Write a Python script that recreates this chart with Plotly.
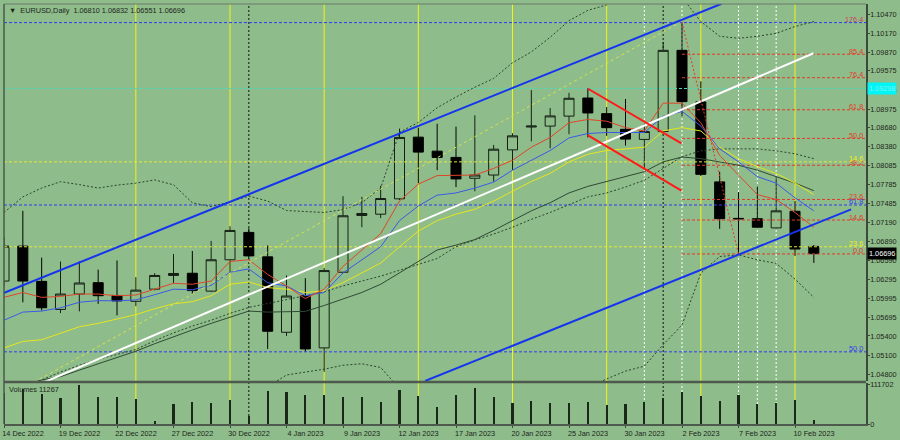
import plotly.graph_objects as go

# ---------------- data ----------------
bar_dates = ["14 Dec 2022", "15 Dec 2022", "16 Dec 2022", "19 Dec 2022", "20 Dec 2022",
             "21 Dec 2022", "22 Dec 2022", "23 Dec 2022", "26 Dec 2022", "27 Dec 2022",
             "28 Dec 2022", "29 Dec 2022", "30 Dec 2022", "2 Jan 2023", "3 Jan 2023",
             "4 Jan 2023", "5 Jan 2023", "6 Jan 2023", "9 Jan 2023", "10 Jan 2023",
             "11 Jan 2023", "12 Jan 2023", "13 Jan 2023", "16 Jan 2023", "17 Jan 2023",
             "18 Jan 2023", "19 Jan 2023", "20 Jan 2023", "23 Jan 2023", "24 Jan 2023",
             "25 Jan 2023", "26 Jan 2023", "27 Jan 2023", "30 Jan 2023", "31 Jan 2023",
             "1 Feb 2023", "2 Feb 2023", "3 Feb 2023", "6 Feb 2023", "7 Feb 2023",
             "8 Feb 2023", "9 Feb 2023", "10 Feb 2023", "13 Feb 2023"]

date_tick_labels = ["14 Dec 2022", "19 Dec 2022", "22 Dec 2022", "27 Dec 2022", "30 Dec 2022",
                    "4 Jan 2023", "9 Jan 2023", "12 Jan 2023", "17 Jan 2023", "20 Jan 2023",
                    "25 Jan 2023", "30 Jan 2023", "2 Feb 2023", "7 Feb 2023", "10 Feb 2023"]

open_ = [1.06265, 1.06815, 1.06260, 1.05818, 1.06060, 1.06239, 1.06038, 1.05946, 1.06137, 1.06353,
         1.06388, 1.06106, 1.06600, 1.07031, 1.06646, 1.05458, 1.06034, 1.05212, 1.06404, 1.07298,
         1.07318, 1.07560, 1.08532, 1.08311, 1.08213, 1.07884, 1.07935, 1.08331, 1.08691, 1.08706,
         1.08863, 1.09148, 1.08902, 1.08655, 1.08496, 1.08620, 1.09899, 1.09087, 1.07827, 1.07252,
         1.07247, 1.07102, 1.07364, 1.06810]
high = [1.06959, 1.07371, 1.06635, 1.06573, 1.06573, 1.06445, 1.06589, 1.06327, 1.06389, 1.06692,
        1.06738, 1.06897, 1.07128, 1.07098, 1.06825, 1.06353, 1.06311, 1.06470, 1.07602, 1.07591,
        1.07765, 1.08666, 1.08681, 1.08743, 1.08697, 1.08876, 1.08409, 1.08593, 1.09272, 1.08990,
        1.09230, 1.09298, 1.09005, 1.09133, 1.08748, 1.10032, 1.10340, 1.09411, 1.07987, 1.07664,
        1.07756, 1.07899, 1.07525, 1.06832]
low = [1.06188, 1.05930, 1.05800, 1.05761, 1.05787, 1.05906, 1.05725, 1.05869, 1.06118, 1.06229,
       1.06060, 1.06095, 1.06384, 1.06620, 1.05196, 1.05401, 1.05150, 1.04836, 1.06389, 1.07113,
       1.07257, 1.07540, 1.07807, 1.08012, 1.07745, 1.07679, 1.07833, 1.08012, 1.08465, 1.08357,
       1.08578, 1.08527, 1.08552, 1.08398, 1.08027, 1.08600, 1.08860, 1.07920, 1.07087, 1.06692,
       1.07105, 1.07097, 1.06661, 1.06551]
close = [1.06815, 1.06265, 1.05844, 1.06060, 1.06234, 1.06034, 1.05952, 1.06122, 1.06353, 1.06384,
         1.06115, 1.06600, 1.07062, 1.06661, 1.05474, 1.06029, 1.05196, 1.06430, 1.07293, 1.07329,
         1.07565, 1.08527, 1.08296, 1.08213, 1.07873, 1.07935, 1.08342, 1.08552, 1.08706, 1.08866,
         1.09144, 1.08913, 1.08681, 1.08501, 1.08620, 1.09899, 1.09091, 1.07946, 1.07247, 1.07245,
         1.07113, 1.07371, 1.06769, 1.06696]

volume = [90000, 100548, 86583, 73456, 111702, 76249, 76000, 72618, 9217, 56698,
          62284, 60608, 69825, 23182, 94962, 93007, 83790, 81835, 77366, 76249,
          64239, 96917, 79042, 49436, 83790, 102503, 78204, 60608, 66194, 61446,
          61446, 62284, 55860, 57815, 63401, 73456, 91331, 79042, 65077, 82952,
          58653, 61446, 67870, 11267]

ma_red = [1.06008, 1.06085, 1.06008, 1.06023, 1.06060, 1.06060, 1.06034, 1.06045, 1.06137, 1.06230,
          1.06214, 1.06265, 1.06574, 1.06600, 1.06369, 1.06188, 1.05988, 1.06137, 1.06497, 1.06754,
          1.07010, 1.07525, 1.07792, 1.07926, 1.07926, 1.07935, 1.08039, 1.08167, 1.08373, 1.08527,
          1.08759, 1.08810, 1.08783, 1.08682, 1.08629, 1.09067, 1.09067, 1.08759, 1.08244, 1.07935,
          1.07627, 1.07550, 1.07345, 1.07113]
ma_blue = [1.05648, 1.05776, 1.05792, 1.05844, 1.05931, 1.05957, 1.05952, 1.05968, 1.06049, 1.06137,
           1.06127, 1.06199, 1.06404, 1.06455, 1.06239, 1.06188, 1.06034, 1.06085, 1.06393, 1.06600,
           1.06805, 1.07217, 1.07448, 1.07618, 1.07653, 1.07730, 1.07823, 1.08012, 1.08167, 1.08321,
           1.08520, 1.08589, 1.08605, 1.08605, 1.08605, 1.08860, 1.08938, 1.08706, 1.08347, 1.08142,
           1.07911, 1.07807, 1.07576, 1.07371]
ma_yellow = [1.05212, 1.05314, 1.05340, 1.05443, 1.05545, 1.05598, 1.05664, 1.05736, 1.05829, 1.05906,
             1.05941, 1.06034, 1.06214, 1.06250, 1.06162, 1.06137, 1.06085, 1.06111, 1.06239, 1.06393,
             1.06548, 1.06805, 1.07052, 1.07217, 1.07318, 1.07396, 1.07525, 1.07679, 1.07834, 1.07961,
             1.08142, 1.08262, 1.08321, 1.08347, 1.08373, 1.08629, 1.08682, 1.08629, 1.08373, 1.08193,
             1.08065, 1.07961, 1.07807, 1.07627]
ma_dark = [1.04569, 1.04615, 1.04708, 1.04759, 1.04862, 1.04962, 1.05066, 1.05160, 1.05278, 1.05391,
           1.05494, 1.05598, 1.05695, 1.05792, 1.05776, 1.05776, 1.05787, 1.05880, 1.05983, 1.06085,
           1.06214, 1.06393, 1.06574, 1.06754, 1.06831, 1.06918, 1.07062, 1.07217, 1.07371, 1.07499,
           1.07653, 1.07756, 1.07834, 1.07915, 1.07988, 1.08142, 1.08219, 1.08193, 1.08142, 1.08089,
           1.08012, 1.07911, 1.07807, 1.07689]
ma_slow = [1.04538, 1.04615, 1.04708, 1.04831, 1.04939, 1.05032, 1.05109, 1.05186, 1.05325, 1.05448,
           1.05556, 1.05648, 1.05756, 1.05849, 1.05911, 1.05972, 1.06034, 1.06096, 1.06188, 1.06265,
           1.06342, 1.06435, 1.06527, 1.06620, 1.06805, 1.06913, 1.07005, 1.07113, 1.07237, 1.07345,
           1.07468, 1.07591, 1.07653, 1.07746, 1.07854, 1.08039, 1.08224, 1.08316, 1.08347, 1.08347,
           1.08347, 1.08316, 1.08270, 1.08193]
bb_upper = [1.07345, 1.07591, 1.07730, 1.07830, 1.07784, 1.07730, 1.07776, 1.07807, 1.07858, 1.07781,
            1.07499, 1.07437, 1.07514, 1.07602, 1.07525, 1.07376, 1.07360, 1.07345, 1.07391, 1.07499,
            1.07730, 1.08609, 1.08763, 1.08995, 1.09164, 1.09318, 1.09457, 1.09704, 1.09874, 1.10105,
            1.10367, 1.10529, 1.10614, 1.10783, 1.10845, 1.10891, 1.10737, 1.10352, 1.10120, 1.10089,
            1.10120, 1.10167, 1.10274, 1.10352]
bb_lower = [1.04184, 1.04106, 1.04029, 1.03999, 1.04029, 1.04060, 1.04106, 1.04184, 1.04261, 1.04338,
            1.04415, 1.04461, 1.04492, 1.04523, 1.04600, 1.04785, 1.04831, 1.04877, 1.04939, 1.04962,
            1.04904, 1.04569, 1.04338, 1.04106, 1.03999, 1.03875, 1.03875, 1.03952, 1.04106, 1.04307,
            1.04461, 1.04585, 1.04723, 1.04847, 1.04924, 1.05263, 1.05571, 1.06389, 1.06651, 1.06677,
            1.06600, 1.06543, 1.06296, 1.06008]

# trend lines: [bar index], [price]
channel_top_x, channel_top_y = [-0.16, 38.1], [1.06060, 1.10633]
channel_bot_x, channel_bot_y = [22.36, 44.98], [1.04691, 1.07395]
white_line_x, white_line_y = [2.14, 42.98], [1.04672, 1.09853]
dotted_trend_x, dotted_trend_y = [1.61, 35.88], [1.04672, 1.10336]
flag_top_x, flag_top_y = [30.99, 35.97], [1.09298, 1.08435]
flag_bot_x, flag_bot_y = [30.99, 35.97], [1.08563, 1.07689]
fib_diag_x, fib_diag_y = [36, 39], [1.10340, 1.06692]

# fibonacci (red) levels drawn from the high bar
fib_start = 36
fib_labels = ["0.0", "14.6", "23.6", "38.2", "50.0", "61.8", "76.4", "85.4"]
fib_prices = [1.06692, 1.07226, 1.07550, 1.08089, 1.08512, 1.08963, 1.09468, 1.09838]

# full-width levels
level_prices = [1.10336, 1.08142, 1.07463, 1.06805, 1.05150]
level_labels = ["176.4", "14.6", "61.8", "23.6", "50.0"]
level_kind = ["blue", "yellow", "blue", "yellow", "blue"]
cyan_level = 1.09298

friday_bars = [7, 12, 17, 22, 27, 32, 37, 42]
month_bars = [13, 35]
white_dotted_bars = [34, 36, 39, 40, 41]

price_ticks = [1.10470, 1.10170, 1.09870, 1.09575, 1.09275, 1.08975, 1.08680, 1.08380, 1.08085,
               1.07785, 1.07485, 1.07190, 1.06890, 1.06590, 1.06295, 1.05995, 1.05695, 1.05400,
               1.05100, 1.04800]
volume_ticks = [0, 111702]

header = "▼  EURUSD,Daily  1.06810 1.06832 1.06551 1.06696"
volume_title = "Volumes 11267"

# ---------------- styling ----------------
BG = "#8fbc8b"
FONT = "Liberation Sans, Arial, sans-serif"
FS = 7.3
TXT = "#1c261c"
X_MAX = 45.77
Y_MIN, Y_MAX = 1.04692, 1.10629
MAIN_DOM = [0.1026, 1.0]
VOL_DOM = [0.0, 0.0979]
colors = {"blue": "#2f3cf2", "yellow": "#e4e838", "red": "#e23a2a"}
label_colors = {"blue": "#2f3cf2", "yellow": "#f0f020", "red": "#e23a2a"}

x = list(range(len(bar_dates)))
fig = go.Figure()


def line(xs, ys, color, width=1, dash=None, yaxis="y"):
    fig.add_trace(go.Scatter(x=xs, y=ys, mode="lines", yaxis=yaxis, hoverinfo="skip",
                             showlegend=False,
                             line=dict(color=color, width=width, dash=dash)))


# full-width horizontal levels
for p, kind in zip(level_prices, level_kind):
    line([0, X_MAX], [p, p], colors[kind], 1, "3px,2px")
line([0, X_MAX], [cyan_level, cyan_level], "#52d6b8", 1, "3px,2px")
# red fib levels
for p in fib_prices:
    line([fib_start, X_MAX], [p, p], colors["red"], 1, "3px,2px")

# indicators
line(x, bb_upper, "#2c452c", 1, "2px,2px")
line(x, bb_lower, "#2c452c", 1, "2px,2px")
line(x, ma_slow, "#2c452c", 1, "2px,2px")
line(x, ma_dark, "#2f4a35", 1)
line(x, ma_yellow, "#e6e61e", 1)
line(x, ma_blue, "#3a5ae8", 1)
line(x, ma_red, "#e0452a", 1)

# trend objects
line(dotted_trend_x, dotted_trend_y, "#d4e44c", 1, "3px,3px")
line(white_line_x, white_line_y, "#ffffff", 2)
line(channel_top_x, channel_top_y, "#1434f0", 2)
line(channel_bot_x, channel_bot_y, "#1434f0", 2)
line(flag_top_x, flag_top_y, "#ff1a1a", 2)
line(flag_bot_x, flag_bot_y, "#ff1a1a", 2)
line(fib_diag_x, fib_diag_y, "#e23a2a", 1, "2px,2px")

# candles
fig.add_trace(go.Candlestick(
    x=x, open=open_, high=high, low=low, close=close,
    increasing=dict(line=dict(color="#142014", width=1), fillcolor=BG),
    decreasing=dict(line=dict(color="#000000", width=1), fillcolor="#000000"),
    whiskerwidth=0, showlegend=False, hoverinfo="skip", yaxis="y"))

# volumes
fig.add_trace(go.Bar(x=x, y=volume, width=0.11, yaxis="y2",
                     marker=dict(color="#1a281a", line=dict(width=0)),
                     showlegend=False, hoverinfo="skip"))

shapes = []
for b in friday_bars:
    shapes.append(dict(type="line", xref="x", yref="paper", x0=b, x1=b, y0=0, y1=1,
                       line=dict(color="#f2f21c", width=1), layer="below"))
for b in month_bars:
    shapes.append(dict(type="line", xref="x", yref="paper", x0=b, x1=b, y0=0, y1=1,
                       line=dict(color="#111111", width=1, dash="2px,2px"), layer="below"))
for b in white_dotted_bars:
    shapes.append(dict(type="line", xref="x", yref="paper", x0=b, x1=b, y0=0, y1=1,
                       line=dict(color="#ffffff", width=1, dash="2px,2px"), layer="below"))
# panel borders
shapes.append(dict(type="line", xref="paper", yref="paper", x0=0, x1=1, y0=0.1002, y1=0.1002,
                   line=dict(color="#4d5a4d", width=2.5), layer="above"))
shapes.append(dict(type="line", xref="paper", yref="paper", x0=0, x1=0, y0=0, y1=1,
                   line=dict(color="#4d5a4d", width=1.5), layer="above"))
shapes.append(dict(type="line", xref="paper", yref="paper", x0=0, x1=1, y0=1, y1=1,
                   line=dict(color="#6d7a6d", width=1), layer="above"))

annotations = []
for lab, p in zip(fib_labels, fib_prices):
    annotations.append(dict(x=1, xref="paper", y=p, yref="y", text=lab, showarrow=False,
                            xanchor="right", yanchor="middle", yshift=3, xshift=-1,
                            font=dict(family=FONT, size=FS, color=label_colors["red"])))
for lab, p, kind in zip(level_labels, level_prices, level_kind):
    c = "#d0405a" if lab == "176.4" else label_colors[kind]
    annotations.append(dict(x=1, xref="paper", y=p, yref="y", text=lab, showarrow=False,
                            xanchor="right", yanchor="middle", yshift=3, xshift=-1,
                            font=dict(family=FONT, size=FS, color=c)))
annotations.append(dict(x=1, xref="paper", y=cyan_level, yref="y", text=f"{cyan_level:.5f}",
                        showarrow=False, xanchor="left", yanchor="middle", xshift=1,
                        bgcolor="#00f6f6", borderpad=1,
                        font=dict(family=FONT, size=FS, color="#7ff0f0")))
annotations.append(dict(x=1, xref="paper", y=close[-1], yref="y", text=f"{close[-1]:.5f}",
                        showarrow=False, xanchor="left", yanchor="middle", xshift=1,
                        bgcolor="#000000", borderpad=1,
                        font=dict(family=FONT, size=FS, color="#ffffff")))
annotations.append(dict(x=0, xref="paper", y=1, yref="paper", text=header, showarrow=False,
                        xanchor="left", yanchor="top", xshift=3, yshift=0,
                        font=dict(family=FONT, size=FS, color=TXT)))
annotations.append(dict(x=0, xref="paper", y=VOL_DOM[1], yref="paper", text=volume_title,
                        showarrow=False, xanchor="left", yanchor="top", xshift=3, yshift=0,
                        font=dict(family=FONT, size=FS, color=TXT)))

fig.update_layout(
    width=900, height=440,
    margin=dict(l=3, r=34, t=2, b=9),
    paper_bgcolor=BG, plot_bgcolor=BG,
    showlegend=False,
    font=dict(family=FONT, size=FS, color=TXT),
    bargap=0, boxgap=0.24,
    xaxis=dict(domain=[0, 1], range=[0, X_MAX], anchor="y2",
               tickvals=[bar_dates.index(d) for d in date_tick_labels],
               ticktext=date_tick_labels, ticks="outside", ticklen=2, tickcolor="#3c4a3c",
               ticklabelshift=19, ticklabelstandoff=-1,
               showline=True, linecolor="#4d5a4d", linewidth=1.5,
               showgrid=False, zeroline=False, rangeslider=dict(visible=False),
               tickfont=dict(family=FONT, size=FS, color=TXT), fixedrange=True),
    yaxis=dict(domain=MAIN_DOM, range=[Y_MIN, Y_MAX], side="right", anchor="x",
               tickvals=price_ticks, ticktext=[f"{v:.5f}" for v in price_ticks],
               ticks="outside", ticklen=2, tickcolor="#3c4a3c", ticklabelstandoff=-1,
               showline=True, linecolor="#3c4a3c", linewidth=1.5,
               showgrid=False, zeroline=False,
               tickfont=dict(family=FONT, size=FS, color=TXT)),
    yaxis2=dict(domain=VOL_DOM, range=[0, 117287], side="right", anchor="x",
                tickvals=volume_ticks, ticktext=[str(v) for v in volume_ticks],
                ticks="outside", ticklen=2, tickcolor="#3c4a3c", ticklabelstandoff=-1,
                showline=True, linecolor="#3c4a3c", linewidth=1.5,
                showgrid=False, zeroline=False,
                tickfont=dict(family=FONT, size=FS, color=TXT)),
    shapes=shapes,
    annotations=annotations,
)

# remove the default page margin so the 900x440 figure sits at the window origin
fig.write_html("out.html", config={"displayModeBar": False},
               post_script="document.body.style.margin='0';document.body.style.overflow='hidden';")
